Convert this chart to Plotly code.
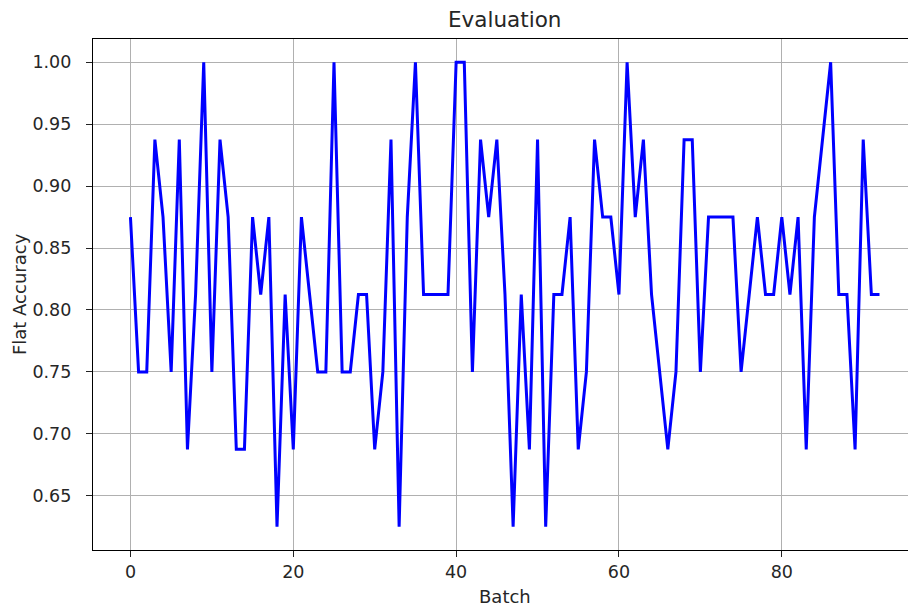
import plotly.graph_objects as go

batches = list(range(93))
flat_accuracy = [
    0.875, 0.75, 0.75, 0.9375, 0.875, 0.75, 0.9375, 0.6875, 0.8125, 1.0,
    0.75, 0.9375, 0.875, 0.6875, 0.6875, 0.875, 0.8125, 0.875, 0.625, 0.8125,
    0.6875, 0.875, 0.8125, 0.75, 0.75, 1.0, 0.75, 0.75, 0.8125, 0.8125,
    0.6875, 0.75, 0.9375, 0.625, 0.875, 1.0, 0.8125, 0.8125, 0.8125, 0.8125,
    1.0, 1.0, 0.75, 0.9375, 0.875, 0.9375, 0.8125, 0.625, 0.8125, 0.6875,
    0.9375, 0.625, 0.8125, 0.8125, 0.875, 0.6875, 0.75, 0.9375, 0.875, 0.875,
    0.8125, 1.0, 0.875, 0.9375, 0.8125, 0.75, 0.6875, 0.75, 0.9375, 0.9375,
    0.75, 0.875, 0.875, 0.875, 0.875, 0.75, 0.8125, 0.875, 0.8125, 0.8125,
    0.875, 0.8125, 0.875, 0.6875, 0.875, 0.9375, 1.0, 0.8125, 0.8125, 0.6875,
    0.9375, 0.8125, 0.8125,
]
x_ticks = [0, 20, 40, 60, 80]
y_ticks = [0.65, 0.70, 0.75, 0.80, 0.85, 0.90, 0.95, 1.00]

FONT = "DejaVu Sans"
TXT = "#262626"
W, H = 908, 608
L, T, B, R = 92.5, 38.5, 58, 0

fig = go.Figure()
fig.add_trace(go.Scatter(
    x=batches, y=flat_accuracy, mode="lines",
    line=dict(color="#0000ff", width=3),
    showlegend=False, hoverinfo="skip",
))

axis_common = dict(
    showgrid=True, gridcolor="#b0b0b0", gridwidth=1.2,
    showline=True, linecolor="black", linewidth=1.3,
    ticks="outside", ticklen=6, tickwidth=1.3, tickcolor="#222",
    tickfont=dict(family=FONT, size=17.5, color=TXT),
    zeroline=False,
)

fig.update_xaxes(range=[-4.6, 95.5], tickvals=x_ticks, mirror=True,
                 ticklabelstandoff=0, **axis_common)
fig.update_yaxes(range=[0.60625, 1.01875], tickvals=y_ticks, tickformat=".2f",
                 ticklabelstandoff=11, **axis_common)

pw = W - L - R
ph = H - T - B
cx = (504.5 - L) / pw

fig.update_layout(
    width=W, height=H,
    margin=dict(l=L, r=R, t=T, b=B, pad=0),
    paper_bgcolor="white", plot_bgcolor="white",
    font=dict(family=FONT, color=TXT),
    annotations=[
        dict(text="Evaluation", xref="paper", yref="paper", x=cx, y=1 + (T - 18.5) / ph,
             showarrow=False, xanchor="center", yanchor="middle",
             font=dict(family=FONT, size=21.5, color=TXT)),
        dict(text="Batch", xref="paper", yref="paper", x=cx, y=-(596.5 - (H - B)) / ph,
             showarrow=False, xanchor="center", yanchor="middle",
             font=dict(family=FONT, size=18, color=TXT)),
        dict(text="Flat Accuracy", xref="paper", yref="paper", x=-(L - 19) / pw, y=0.5,
             showarrow=False, xanchor="center", yanchor="middle", textangle=-90,
             font=dict(family=FONT, size=18, color=TXT)),
    ],
)

fig.write_html("out.html")
